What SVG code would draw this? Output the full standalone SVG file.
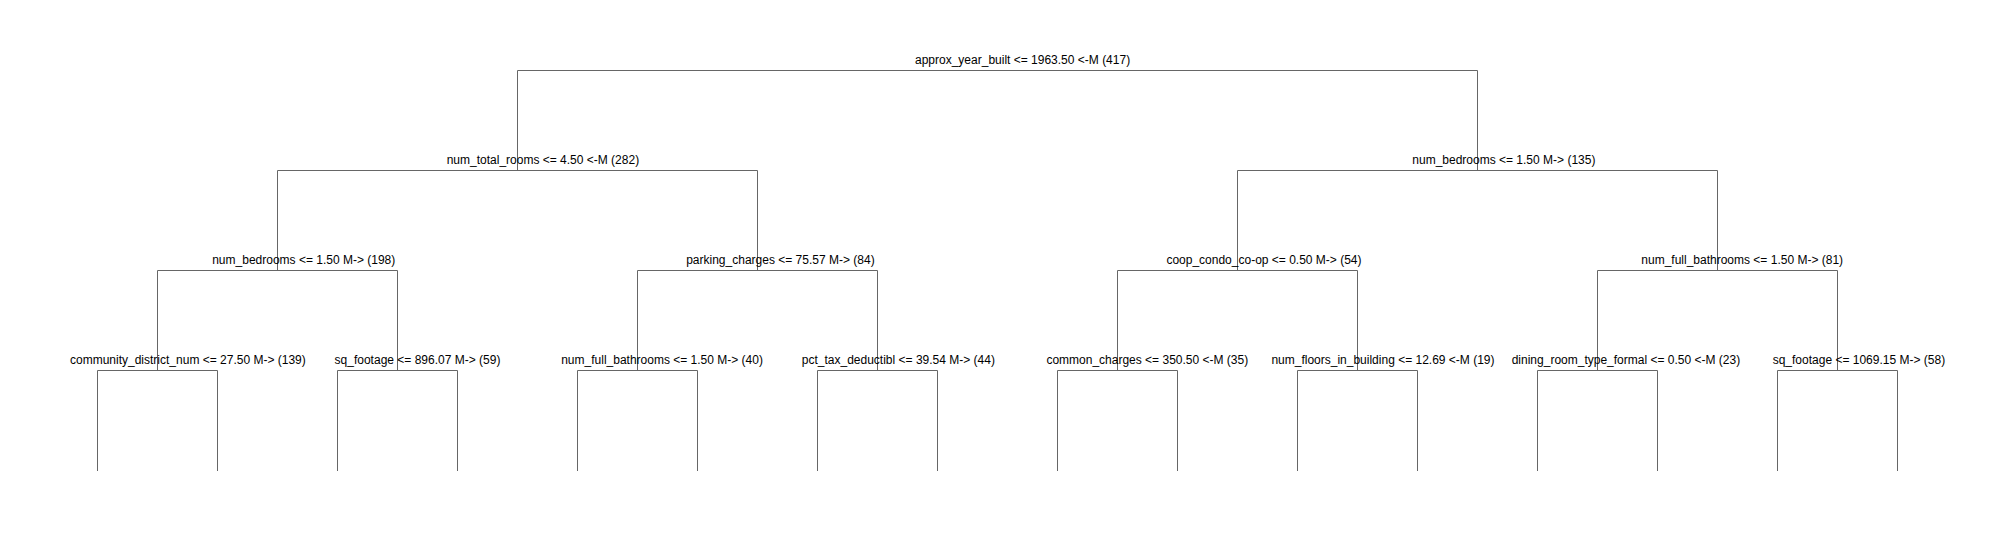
<svg xmlns="http://www.w3.org/2000/svg" width="2015" height="540" viewBox="0 0 2015 540">
<style>
.e{stroke:#666;stroke-width:1;fill:none}
.t{font-family:"Liberation Sans",Arial,sans-serif;font-size:12px;fill:#000}
</style>
<rect x="0" y="0" width="2015" height="540" fill="#fff"/>
<g id="connectors">
<path class="e" d="M517.5,170.5V70.5H1477.5V170.5"/>
<path class="e" d="M277.5,270.5V170.5H757.5V270.5"/>
<path class="e" d="M1237.5,270.5V170.5H1717.5V270.5"/>
<path class="e" d="M157.5,370.5V270.5H397.5V370.5"/>
<path class="e" d="M637.5,370.5V270.5H877.5V370.5"/>
<path class="e" d="M1117.5,370.5V270.5H1357.5V370.5"/>
<path class="e" d="M1597.5,370.5V270.5H1837.5V370.5"/>
<path class="e" d="M97.5,471V370.5H217.5V471"/>
<path class="e" d="M337.5,471V370.5H457.5V471"/>
<path class="e" d="M577.5,471V370.5H697.5V471"/>
<path class="e" d="M817.5,471V370.5H937.5V471"/>
<path class="e" d="M1057.5,471V370.5H1177.5V471"/>
<path class="e" d="M1297.5,471V370.5H1417.5V471"/>
<path class="e" d="M1537.5,471V370.5H1657.5V471"/>
<path class="e" d="M1777.5,471V370.5H1897.5V471"/>
</g>
<g id="n1"><text class="t" x="915" y="63.5">approx_year_built &lt;= 1963.50 &lt;-M (417)</text></g>
<g id="n2"><text class="t" x="446.7" y="163.5">num_total_rooms &lt;= 4.50 &lt;-M (282)</text></g>
<g id="n3"><text class="t" x="1412.3" y="163.5">num_bedrooms &lt;= 1.50 M-&gt; (135)</text></g>
<g id="n4"><text class="t" x="212.2" y="263.5">num_bedrooms &lt;= 1.50 M-&gt; (198)</text></g>
<g id="n5"><text class="t" x="686.2" y="263.5">parking_charges &lt;= 75.57 M-&gt; (84)</text></g>
<g id="n6"><text class="t" x="1166.4" y="263.5">coop_condo_co-op &lt;= 0.50 M-&gt; (54)</text></g>
<g id="n7"><text class="t" x="1641.3" y="263.5">num_full_bathrooms &lt;= 1.50 M-&gt; (81)</text></g>
<g id="n8"><text class="t" x="70" y="363.5">community_district_num &lt;= 27.50 M-&gt; (139)</text></g>
<g id="n9"><text class="t" x="334.6" y="363.5">sq_footage &lt;= 896.07 M-&gt; (59)</text></g>
<g id="n10"><text class="t" x="561.2" y="363.5">num_full_bathrooms &lt;= 1.50 M-&gt; (40)</text></g>
<g id="n11"><text class="t" x="801.8" y="363.5">pct_tax_deductibl &lt;= 39.54 M-&gt; (44)</text></g>
<g id="n12"><text class="t" x="1046.4" y="363.5">common_charges &lt;= 350.50 &lt;-M (35)</text></g>
<g id="n13"><text class="t" x="1271.4" y="363.5">num_floors_in_building &lt;= 12.69 &lt;-M (19)</text></g>
<g id="n14"><text class="t" x="1511.7" y="363.5">dining_room_type_formal &lt;= 0.50 &lt;-M (23)</text></g>
<g id="n15"><text class="t" x="1772.7" y="363.5">sq_footage &lt;= 1069.15 M-&gt; (58)</text></g>
</svg>
